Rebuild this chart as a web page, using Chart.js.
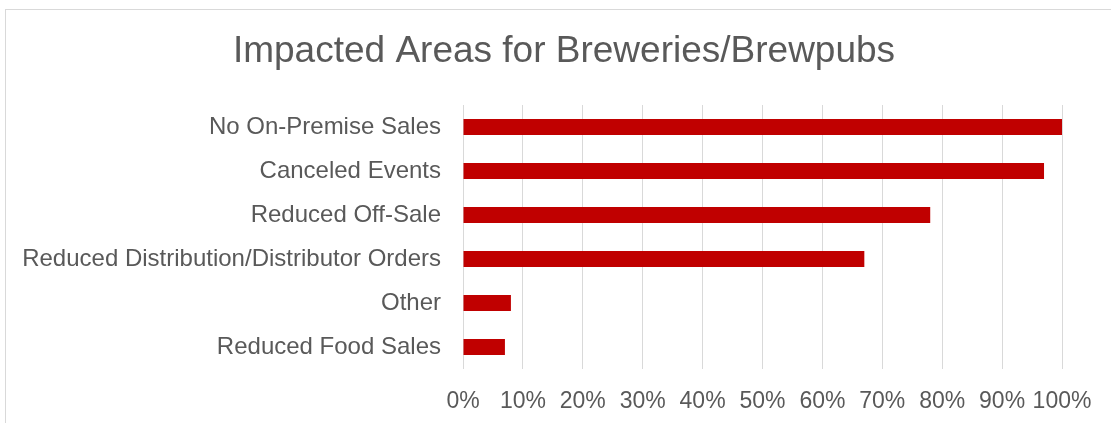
<!DOCTYPE html>
<html>
<head>
<meta charset="utf-8">
<script src="https://cdn.jsdelivr.net/npm/chart.js@4/dist/chart.umd.min.js"></script>
<style>
  html, body { margin: 0; padding: 0; overflow: hidden; background: #fff; }
  #wrap { position: relative; width: 1111px; height: 423px; }
  #frame { position: absolute; left: 5px; top: 9px; width: 1200px; height: 500px;
           border: 1px solid #d9d9d9; box-sizing: border-box; pointer-events: none; }
  canvas { position: absolute; left: 0; top: 0; }
</style>
</head>
<body>
<div id="wrap">
  <div id="frame"></div>
  <canvas id="chart" width="1111" height="423"></canvas>
</div>
<script>
// Data
const chartTitle = 'Impacted Areas for Breweries/Brewpubs';
const categories = [
    'No On-Premise Sales',
    'Canceled Events',
    'Reduced Off-Sale',
    'Reduced Distribution/Distributor Orders',
    'Other',
    'Reduced Food Sales'
];
const shares = [100, 97, 78, 67, 8, 7];
const xTicks = [0, 10, 20, 30, 40, 50, 60, 70, 80, 90, 100];

const textColor = '#595959';
const fontFamily = "'Liberation Sans', Arial, sans-serif";

// Title drawn by hand: it is centred a bit right of the canvas middle
const titlePlugin = {
    id: 'offsetTitle',
    afterDraw(chart) {
        const c = chart.ctx;
        c.save();
        c.fillStyle = textColor;
        c.font = '37px ' + fontFamily;
        c.textAlign = 'center';
        c.textBaseline = 'alphabetic';
        c.fillText(chartTitle, 564, 62);
        c.restore();
    }
};

const ctx = document.getElementById('chart').getContext('2d');
const chart = new Chart(ctx, {
    type: 'bar',
    data: {
        labels: categories,
        datasets: [{
            data: shares,
            backgroundColor: '#C00000',
            borderWidth: 0,
            categoryPercentage: 1,
            barPercentage: 0.364
        }]
    },
    options: {
        indexAxis: 'y',
        responsive: false,
        animation: false,
        layout: {
            padding: { left: 0, right: 49, top: 105, bottom: 0 }
        },
        plugins: {
            legend: { display: false },
            tooltip: { enabled: false },
            title: { display: false }
        },
        scales: {
            x: {
                min: 0,
                max: 100,
                afterBuildTicks: function(scale) {
                    scale.ticks = xTicks.map(v => ({ value: v }));
                },
                afterFit: function(scale) {
                    scale.height = 54;
                },
                grid: { color: '#d9d9d9', lineWidth: 1, drawTicks: false },
                border: { display: false },
                ticks: {
                    color: textColor,
                    font: { family: fontFamily, size: 23 },
                    padding: 19,
                    maxRotation: 0,
                    autoSkip: false,
                    callback: v => v + '%'
                }
            },
            y: {
                afterFit: function(scale) {
                    scale.width = 463;
                },
                grid: { display: false, drawTicks: false },
                border: { display: false },
                ticks: {
                    color: textColor,
                    font: { family: fontFamily, size: 24 },
                    padding: 22
                }
            }
        }
    },
    plugins: [titlePlugin]
});
</script>
</body>
</html>
